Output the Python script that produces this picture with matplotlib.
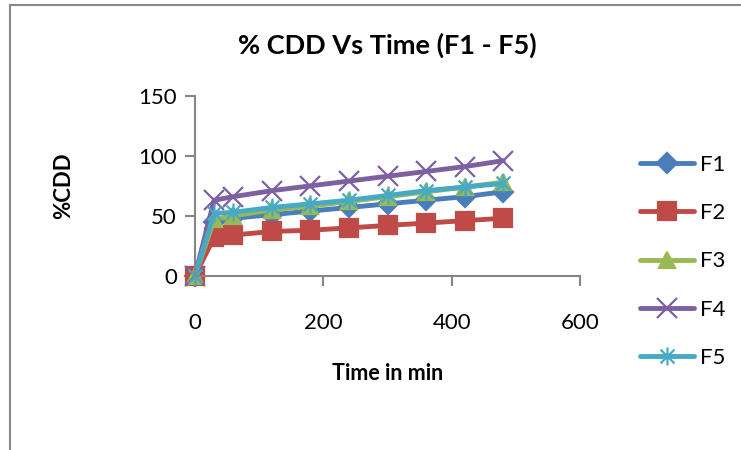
import matplotlib
matplotlib.use("Agg")
import matplotlib.pyplot as plt
from matplotlib.lines import Line2D
from matplotlib.path import Path

# time points (min)
time_min = [0, 30, 60, 120, 180, 240, 300, 360, 420, 480]

# % CDD for each formulation
f1 = [0, 45, 48, 51, 54, 57, 60, 63, 66, 70]
f2 = [0, 32, 34, 37, 38, 40, 42, 44, 46, 48]
f3 = [0, 47, 50, 55, 58, 62, 66, 70, 74, 78]
f4 = [0, 63, 66, 71, 75, 79, 83, 87, 91, 96]
f5 = [0, 52, 53, 57, 60, 63, 67, 71, 74, 77]

labels = ['F1', 'F2', 'F3', 'F4', 'F5']
colors = ['#4A7EBB', '#BE4B48', '#98B954', '#7D60A0', '#46AAC5']

# excel style asterisk: x plus vertical bar
star = Path([(-1, -1), (1, 1), (-1, 1), (1, -1), (0, -1.3), (0, 1.3)],
            [Path.MOVETO, Path.LINETO, Path.MOVETO, Path.LINETO, Path.MOVETO, Path.LINETO])

markers = ['D', 's', '^', 'x', star]
msizes = [10, 13, 12, 14, 13]

plt.rcParams['font.family'] = ['Lato', 'DejaVu Sans']

fig = plt.figure(figsize=(7.41, 4.5), dpi=100)
ax = fig.add_axes([0.263, 0.387, 0.52, 0.4])

for ys, lab, c, m, ms in zip([f1, f2, f3, f4, f5], labels, colors, markers, msizes):
    ax.plot(time_min, ys, color=c, lw=3.5, marker=m, markersize=ms,
            markerfacecolor=c, markeredgecolor=c, markeredgewidth=1.6,
            label=lab, clip_on=False, solid_joinstyle='round', solid_capstyle='round')

ax.set_xlim(0, 600)
ax.set_ylim(0, 150)
ax.set_xticks([0, 200, 400, 600])
ax.set_yticks([0, 50, 100, 150])

for s in ['top', 'right']:
    ax.spines[s].set_visible(False)
for s in ['left', 'bottom']:
    ax.spines[s].set_color('#868686')
    ax.spines[s].set_linewidth(1.5)
ax.tick_params(colors='#868686', width=1.5, length=7, labelcolor='black', labelsize=16)
ax.tick_params(axis='x', pad=20)
ax.tick_params(axis='y', pad=6)

ax.set_title('% CDD Vs Time (F1 - F5)', fontsize=19.5, fontweight='bold', pad=30)
ax.set_xlabel('Time in min', fontsize=15.5, fontweight='bold', labelpad=21)
ax.set_ylabel('%CDD', fontsize=16, fontweight='bold', labelpad=46)

ax.legend(loc='upper left', bbox_to_anchor=(1.156, 0.672), frameon=False,
          fontsize=16, handlelength=2.4, handletextpad=0.3, labelspacing=1.27,
          borderaxespad=0, borderpad=0)

# chart area frame (only top and left visible)
fig.add_artist(Line2D([9.5 / 741, 1], [1 - 4.5 / 450, 1 - 4.5 / 450], color='#888888', lw=1.5))
fig.add_artist(Line2D([9.5 / 741, 9.5 / 741], [0, 1 - 4.5 / 450], color='#888888', lw=1.5))

fig.savefig('out.png', dpi=100)
